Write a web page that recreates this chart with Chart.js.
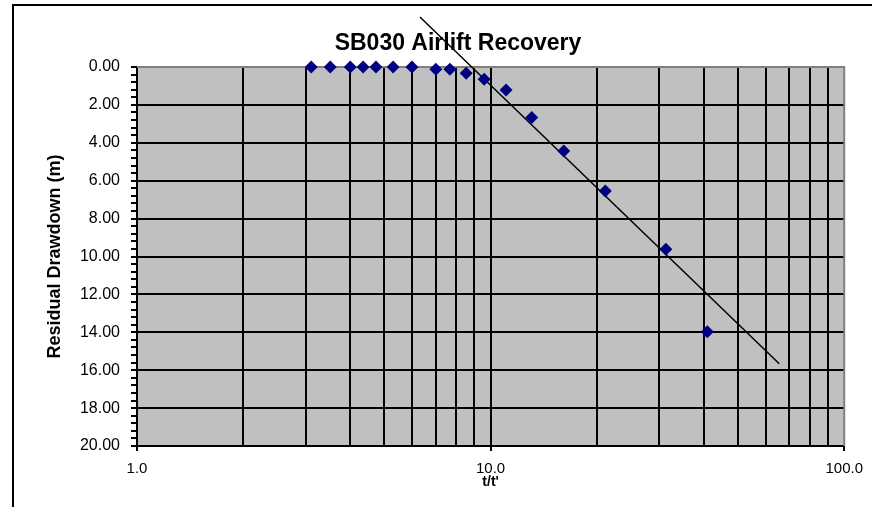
<!DOCTYPE html>
<html>
<head>
<meta charset="utf-8">
<script src="https://cdn.jsdelivr.net/npm/chart.js@4.4.1/dist/chart.umd.min.js"></script>
<style>
  html, body { margin: 0; padding: 0; background: #fff; }
  #wrap { width: 872px; height: 507px; }
</style>
</head>
<body>
<div id="wrap"><canvas id="chart" width="872" height="507"></canvas></div>
<script>
(function(){
  // values
  const tRatio   = [3.11, 3.52, 4.01, 4.36, 4.74, 5.30, 5.99, 7.00, 7.67, 8.53, 9.59, 11.06, 13.07, 16.1, 21.1, 31.3, 41.0];
  const drawdown = [0, 0, 0, 0, 0, 0, 0, 0.12, 0.12, 0.33, 0.65, 1.21, 2.67, 4.43, 6.54, 9.62, 13.97];

  // fitted straight line (ends run past the plot on purpose)
  const fitX = [6.31, 65.5];
  const fitY = [-2.64, 15.66];

  // axis grid / ticks
  const xGrid = [1, 2, 3, 4, 5, 6, 7, 8, 9, 10, 20, 30, 40, 50, 60, 70, 80, 90, 100];
  const yMajorStep = 2;
  const yMinorPerMajor = 5;

  const FONT = "Arial, 'Liberation Sans', sans-serif";

  const isDecade = v => Math.abs(Math.log10(v) - Math.round(Math.log10(v))) < 1e-9;
  const isYMajor = v => Math.abs(v / yMajorStep - Math.round(v / yMajorStep)) < 1e-6;

  // grey plot background, outer frame, grey top/right border and title
  const frame = {
    id: 'frame',
    beforeDraw(chart) {
      const { ctx, chartArea: a } = chart;
      ctx.save();
      ctx.fillStyle = '#fff';
      ctx.fillRect(0, 0, chart.width, chart.height);
      ctx.fillStyle = '#c0c0c0';
      ctx.fillRect(a.left, a.top, a.right - a.left, a.bottom - a.top);
      ctx.strokeStyle = '#000';
      ctx.lineWidth = 2;
      ctx.strokeRect(13, 5, chart.width + 40, chart.height + 40);
      ctx.restore();
    },
    beforeDatasetsDraw(chart) {
      const { ctx, chartArea: a } = chart;
      ctx.save();
      ctx.strokeStyle = '#808080';
      ctx.lineWidth = 2;
      ctx.beginPath();
      ctx.moveTo(a.left, a.top);
      ctx.lineTo(a.right, a.top);
      ctx.lineTo(a.right, a.bottom);
      ctx.stroke();
      ctx.fillStyle = '#000';
      ctx.font = 'bold 23px ' + FONT;
      ctx.textAlign = 'center';
      ctx.textBaseline = 'middle';
      ctx.fillText('SB030 Airlift Recovery', 458, 44);
      ctx.restore();
    }
  };

  const ctx = document.getElementById('chart').getContext('2d');
  new Chart(ctx, {
    type: 'scatter',
    data: {
      datasets: [{
        label: 'Residual drawdown',
        data: tRatio.map((t, i) => ({ x: t, y: drawdown[i] })),
        pointStyle: 'rectRot',
        pointRadius: 6.5,
        pointHoverRadius: 6.5,
        backgroundColor: '#000080',
        borderColor: '#000080',
        borderWidth: 0,
        clip: false
      }, {
        label: 'Fit',
        data: fitX.map((t, i) => ({ x: t, y: fitY[i] })),
        showLine: true,
        borderColor: '#000',
        borderWidth: 1.5,
        pointRadius: 0,
        clip: false
      }]
    },
    options: {
      responsive: false,
      animation: false,
      devicePixelRatio: 1,
      layout: { padding: { top: 67, right: 25, bottom: 0, left: 0 } },
      plugins: { legend: { display: false }, tooltip: { enabled: false } },
      scales: {
        x: {
          type: 'logarithmic',
          min: 1,
          max: 100,
          afterBuildTicks: s => { s.ticks = xGrid.map(v => ({ value: v })); },
          afterFit: s => { s.height = 61; },
          ticks: {
            autoSkip: false,
            maxRotation: 0,
            padding: 9,
            color: '#000',
            font: { family: FONT, size: 15 },
            callback: v => isDecade(v) ? v.toFixed(1) : ''
          },
          grid: {
            lineWidth: 2,
            tickLength: 5,
            color: c => (c.tick && (c.tick.value === 1 || c.tick.value === 100)) ? 'rgba(0,0,0,0)' : '#000',
            tickColor: c => (c.tick && isDecade(c.tick.value)) ? '#000' : 'rgba(0,0,0,0)'
          },
          border: { display: true, color: '#000', width: 2 },
          title: {
            display: true,
            text: "t/t'",
            color: '#000',
            font: { family: FONT, size: 14, weight: 'bold' },
            padding: { top: 0, bottom: 16 }
          }
        },
        y: {
          type: 'linear',
          reverse: true,
          min: 0,
          max: 20,
          afterBuildTicks: s => {
            const ticks = [];
            const n = (s.max / yMajorStep) * yMinorPerMajor;
            for (let i = 0; i <= n; i++) ticks.push({ value: i * yMajorStep / yMinorPerMajor });
            s.ticks = ticks;
          },
          afterFit: s => { s.width = 137; },
          ticks: {
            autoSkip: false,
            padding: 11,
            color: '#000',
            font: { family: FONT, size: 16 },
            callback: v => isYMajor(v) ? v.toFixed(2) : ''
          },
          grid: {
            lineWidth: 2,
            tickLength: 6,
            color: c => (c.tick && isYMajor(c.tick.value) && c.tick.value > 0) ? '#000' : 'rgba(0,0,0,0)',
            tickColor: '#000'
          },
          border: { display: true, color: '#000', width: 2 },
          title: {
            display: true,
            text: 'Residual Drawdown (m)',
            color: '#000',
            font: { family: FONT, size: 18, weight: 'bold' },
            padding: { top: 44, bottom: 0 }
          }
        }
      }
    },
    plugins: [frame]
  });
})();
</script>
</body>
</html>
